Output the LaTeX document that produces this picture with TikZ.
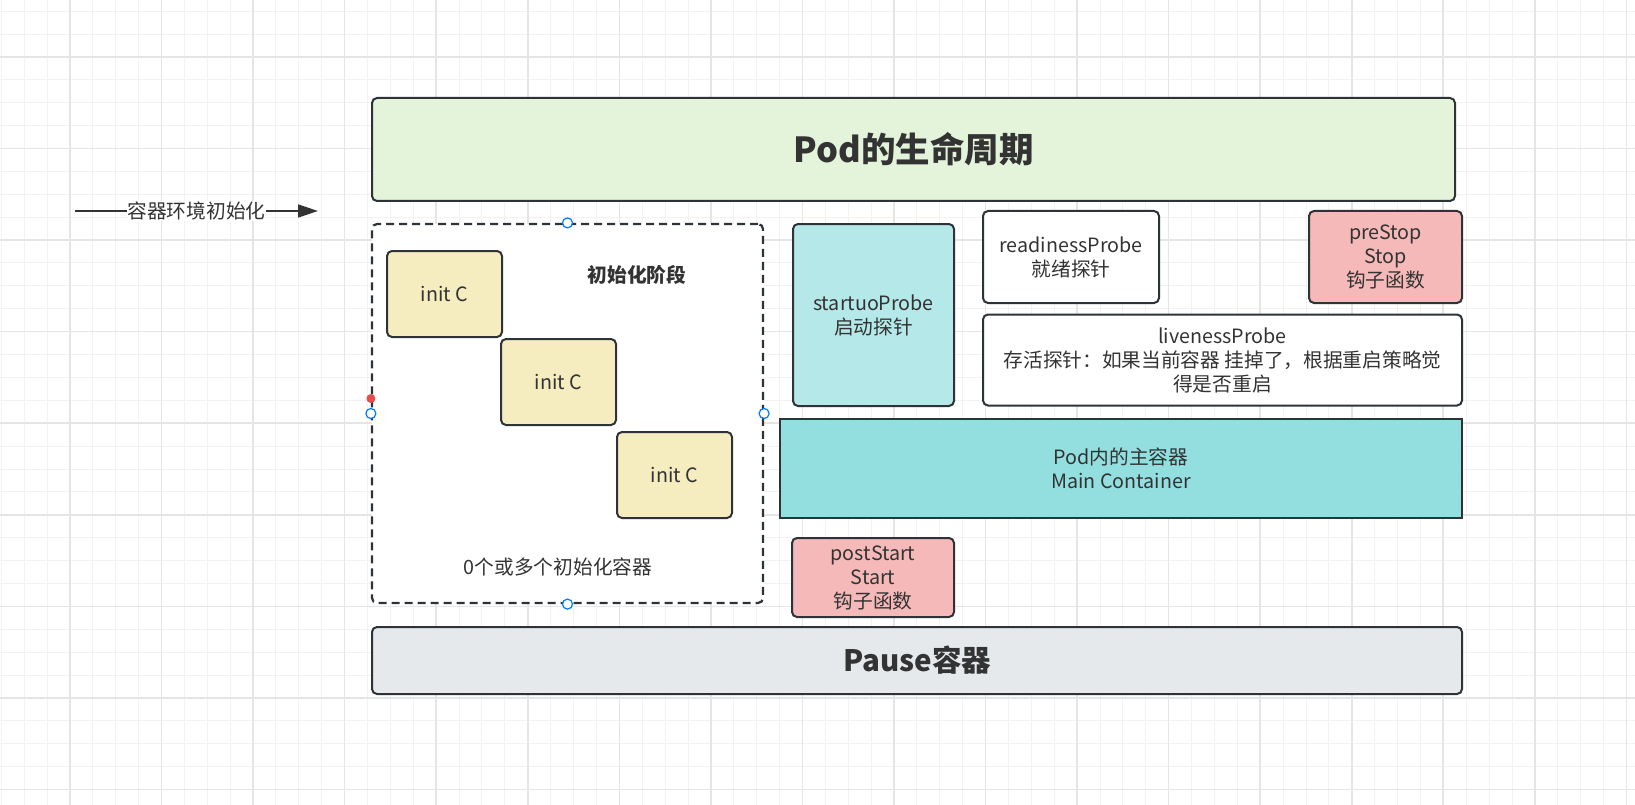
\documentclass[tikz,border=0pt]{standalone}
\usepackage{fontspec}
\setmainfont{Noto Sans CJK SC}
\usetikzlibrary{arrows.meta}

\definecolor{linegray}{RGB}{46,51,56}
\definecolor{textgray}{RGB}{51,51,51}
\definecolor{podgreen}{RGB}{227,244,218}
\definecolor{inityellow}{RGB}{245,236,192}
\definecolor{probecyan}{RGB}{180,232,233}
\definecolor{maincyan}{RGB}{147,223,224}
\definecolor{hookpink}{RGB}{244,185,184}
\definecolor{pausegray}{RGB}{230,233,236}
\definecolor{handleblue}{RGB}{0,122,255}
\definecolor{handlered}{RGB}{232,76,76}

\newcommand{\bodyfont}{\fontsize{19.7}{24}\selectfont}
\newcommand{\titlefont}{\fontsize{34.5}{40}\selectfont\bfseries}
\newcommand{\pausefont}{\fontsize{29.5}{34}\selectfont\bfseries}

\tikzset{
  box/.style={draw=linegray, line width=2pt, rounded corners=5pt, align=center,
    inner sep=0pt, text=textgray, font=\bodyfont},
  initbox/.style={box, fill=inityellow, minimum width=115pt, minimum height=86pt},
  hookbox/.style={box, fill=hookpink},
  handle/.style={circle, draw=handleblue, fill=white, line width=1.2pt,
    inner sep=0pt, minimum size=10pt},
  gridminor/.style={draw={rgb,255:red,242;green,242;blue,242}, line width=1pt},
  gridmajor/.style={draw={rgb,255:red,229;green,229;blue,229}, line width=1.6pt},
}

\begin{document}
\begin{tikzpicture}[x=1pt, y=-1pt]
  \useasboundingbox (0,0) rectangle (1635,805);
  \fill[white] (0,0) rectangle (1635,805);

  % grid
  \foreach \i in {0,...,71}
    \draw[gridminor] ({1.3+22.89*\i},0) -- ++(0,805);
  \foreach \j in {0,...,35}
    \draw[gridminor] (0,{11.2+22.89*\j}) -- ++(1635,0);
  \foreach \i in {1,...,18}
    \draw[gridmajor] ({-21.55+91.55*\i},0) -- ++(0,805);
  \foreach \j in {0,...,8}
    \draw[gridmajor] (0,{57+91.55*\j}) -- ++(1635,0);

  \node[box, fill=podgreen, minimum width=1083pt, minimum height=103pt, font=\titlefont]
    (pod) at (913.5,149.5) {Pod的生命周期};

  \coordinate (envstart) at (75,211);
  \coordinate (envend) at (318,211);
  \draw[-{Triangle[length=20pt, width=13pt]}, line width=1.5pt, draw=textgray]
    (envstart) -- node[fill=white, inner sep=1pt, text=textgray, font=\bodyfont] {容器环境初始化} (envend);

  % init stage
  \node[draw=linegray, fill=white, line width=2.2pt, dash pattern=on 8pt off 5pt,
    rounded corners=5pt, minimum width=391pt, minimum height=379pt] (initstage) at (567.5,413.5) {};
  \node[initbox] (initA) at (444.5,294) {init C};
  \node[initbox] (initB) at (558.5,382) {init C};
  \node[initbox] (initC) at (674.5,475) {init C};
  \node[text=textgray, font=\bodyfont\bfseries] (stagelabel) at (637,275) {初始化阶段};
  \node[text=textgray, font=\bodyfont] (initnote) at (558,567) {0个或多个初始化容器};
  \node[handle] (hn) at (initstage.north) {};
  \node[handle] (hs) at (initstage.south) {};
  \node[handle] (hw) at (initstage.west) {};
  \node[handle] (he) at (initstage.east) {};
  \node[circle, fill=handlered, inner sep=0pt, minimum size=9pt] (hdot) at ([yshift=15pt]initstage.west) {};

  % probes and hooks
  \node[box, fill=probecyan, minimum width=161pt, minimum height=182pt]
    (startup) at (873.5,315) {startuoProbe\\启动探针};
  \node[box, fill=white, minimum width=176pt, minimum height=92pt]
    (readiness) at (1071,257) {readinessProbe\\就绪探针};
  \node[hookbox, minimum width=153pt, minimum height=92pt]
    (prestop) at (1385.5,257) {preStop\\Stop\\钩子函数};
  \node[box, fill=white, minimum width=479pt, minimum height=91pt]
    (liveness) at (1222.5,360) {livenessProbe\\存活探针：如果当前容器 挂掉了，根据重启策略觉\\得是否重启};
  \node[box, fill=maincyan, rounded corners=0pt, minimum width=682pt, minimum height=99pt]
    (main) at (1121,468.5) {Pod内的主容器\\Main Container};
  \node[hookbox, minimum width=162pt, minimum height=79pt]
    (poststart) at (873,577.5) {postStart\\Start\\钩子函数};

  \node[box, fill=pausegray, minimum width=1090pt, minimum height=67pt, font=\pausefont]
    (pause) at (917,660.5) {Pause容器};
\end{tikzpicture}
\end{document}
